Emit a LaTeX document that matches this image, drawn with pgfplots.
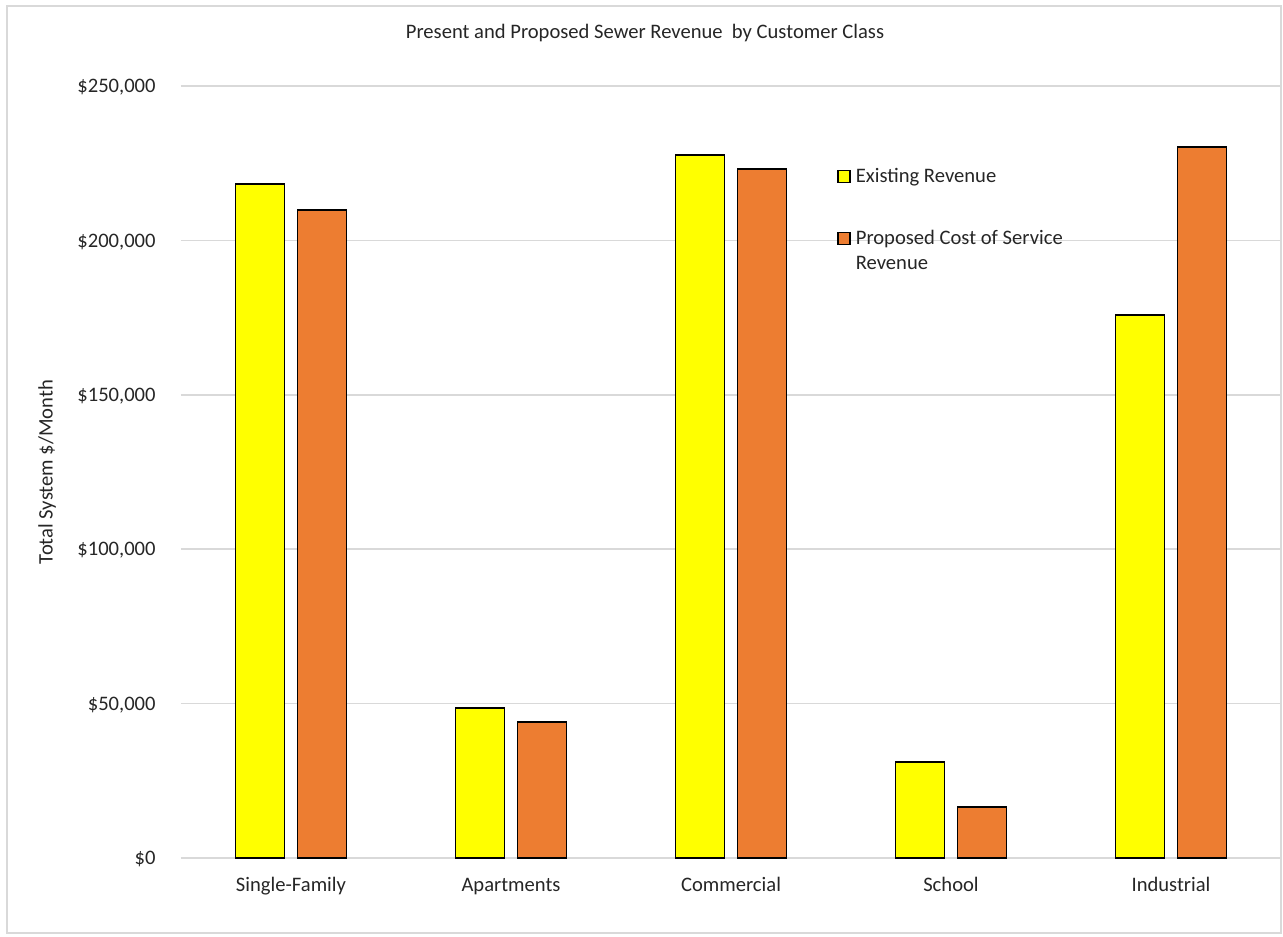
\documentclass[border=0pt]{standalone}
\usepackage{pgfplots}
\pgfplotsset{compat=1.18}
\usepackage{fontspec}
\setmainfont{Carlito}
\definecolor{existing}{HTML}{FFFF00}
\definecolor{proposed}{HTML}{ED7D31}
\definecolor{gridgray}{HTML}{D9D9D9}
\definecolor{txt}{HTML}{262626}

\begin{document}
\begin{tikzpicture}
\begin{axis}[
  at={(0,0)}, anchor=south west,
  scale only axis,
  width=550pt, height=386pt,
  font=\fontsize{10.3}{12.5}\selectfont\color{txt},
  ybar=6.5pt,
  bar width=24.5pt,
  xmin=-0.5, xmax=4.5,
  ymin=0, ymax=250000,
  enlargelimits=false,
  xtick={0,1,2,3,4},
  xticklabels={Single-Family,Apartments,Commercial,School,Industrial},
  ytick={0,50000,100000,150000,200000,250000},
  yticklabels={{\$0},{\$50,000},{\$100,000},{\$150,000},{\$200,000},{\$250,000}},
  scaled y ticks=false,
  major tick length=0pt,
  tick style={draw=none},
  axis line style={draw=none},
  ymajorgrids,
  grid style={gridgray, line width=0.8pt},
  xticklabel style={anchor=base, inner sep=0pt, yshift=-16.9pt},
  yticklabel style={anchor=base east, inner sep=0pt, xshift=-12.5pt, yshift=-3.4pt},
  ylabel={Total System \$/Month},
  every axis y label/.style={at={(axis description cs:-0.1218,0.5)}, rotate=90, anchor=center},
  title={Present and Proposed Sewer Revenue\hspace{0.45em}by Customer Class},
  every axis title/.style={at={(axis description cs:0.4218,1.0687)}, anchor=center},
  legend style={
    at={(axis description cs:0.5964,0.8935)}, anchor=north west,
    draw=none, fill=none, inner sep=0pt,
    nodes={inner sep=0pt, anchor=base west},
    column sep=2.5pt, row sep=20.8pt,
    font=\fontsize{10.3}{12.5}\selectfont\color{txt},
  },
  legend cell align=left,
  legend image code/.code={
    \draw[#1, draw=black, line width=0.7pt] (0pt,0.2pt) rectangle (6pt,6.2pt);
  },
]
\addplot[fill=existing, draw=black, line width=0.9pt] coordinates {
  (0,218300) (1,48600) (2,227700) (3,31100) (4,175800)
};
\addlegendentry{Existing Revenue}
\addplot[fill=proposed, draw=black, line width=0.9pt] coordinates {
  (0,209800) (1,44000) (2,223100) (3,16500) (4,230200)
};
\addlegendentry{\begin{tabular}[t]{@{}l@{}}Proposed Cost of Service\\Revenue\end{tabular}}
\end{axis}
% chart frame
\draw[gridgray, line width=0.9pt] (-87pt,-37.5pt) rectangle (550pt,426pt);
\pgfresetboundingbox
\path (-90.5pt,-39pt) rectangle (551pt,429pt);
\end{tikzpicture}
\end{document}
